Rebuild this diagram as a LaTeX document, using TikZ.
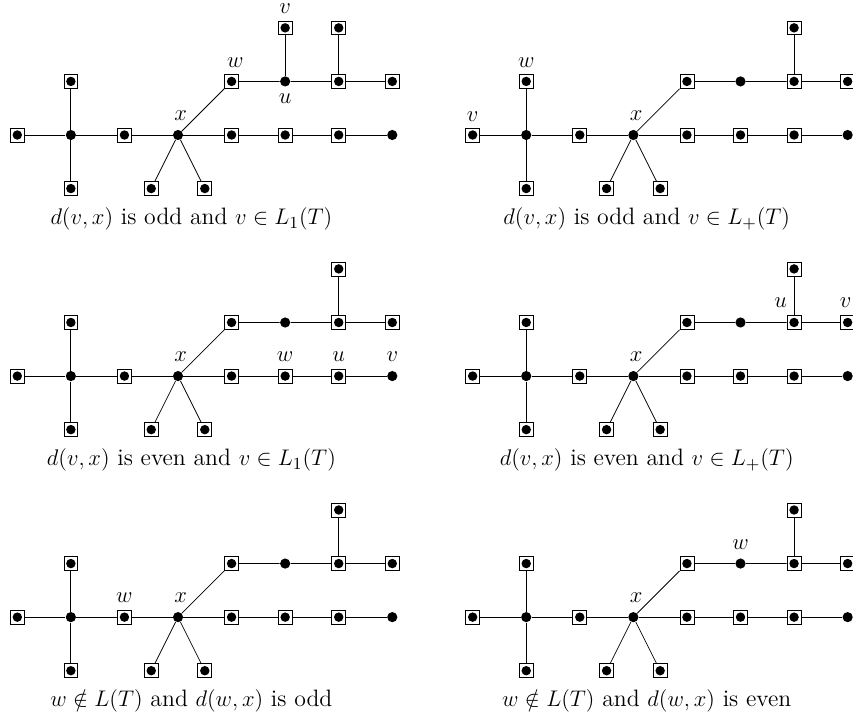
\documentclass[tikz,border=0pt]{standalone}
\usetikzlibrary{positioning}

\begin{document}
\begin{tikzpicture}[
  dot/.style={circle, fill, inner sep=0pt, minimum size=1.9mm},
  leaf/.style={draw, rectangle, inner sep=0pt, minimum size=2.6mm,
    path picture={\fill (path picture bounding box.center) circle (0.88mm);}},
  lbl/.style={inner sep=0pt, font=\fontsize{12.6}{15}\selectfont},
  captext/.style={inner sep=0pt, font=\fontsize{12.6}{15}\selectfont}
]
\useasboundingbox (-0.323,-10.96) rectangle (15.6,2.52);

% the same tree, six times
\foreach \p/\dx/\dy/\txt in {
  1/0/0/{$d(v,x)$ is odd and $v\in L_1(T)$},
  2/8.5/0/{$d(v,x)$ is odd and $v\in L_+(T)$},
  3/0/-4.5/{$d(v,x)$ is even and $v\in L_1(T)$},
  4/8.5/-4.5/{$d(v,x)$ is even and $v\in L_+(T)$},
  5/0/-9/{$w\notin L(T)$ and $d(w,x)$ is odd},
  6/8.5/-9/{$w\notin L(T)$ and $d(w,x)$ is even}} {
  \begin{scope}[shift={(\dx,\dy)}]
  \node[leaf] (lf-\p) at (0,0) {};
  \node[dot] (hub-\p) at (1,0) {};
  \node[leaf] (hubup-\p) at (1,1) {};
  \node[leaf] (hubdn-\p) at (1,-1) {};
  \node[leaf] (mid-\p) at (2,0) {};
  \node[dot] (x-\p) at (3,0) {};
  \node[leaf] (xl-\p) at (2.5,-1) {};
  \node[leaf] (xr-\p) at (3.5,-1) {};
  \node[leaf] (lo4-\p) at (4,0) {};
  \node[leaf] (lo5-\p) at (5,0) {};
  \node[leaf] (lo6-\p) at (6,0) {};
  \node[dot] (lo7-\p) at (7,0) {};
  \node[leaf] (up4-\p) at (4,1) {};
  \node[dot] (up5-\p) at (5,1) {};
  \node[leaf] (up6-\p) at (6,1) {};
  \node[leaf] (up7-\p) at (7,1) {};
  \node[leaf] (top6-\p) at (6,2) {};
  \node[captext] (cap-\p) at (3.25,-1.57) {\txt};
  \draw (lf-\p) -- (hub-\p) -- (mid-\p) -- (x-\p) -- (lo4-\p) -- (lo5-\p) -- (lo6-\p) -- (lo7-\p);
  \draw (hubup-\p) -- (hub-\p) -- (hubdn-\p);
  \draw (x-\p) -- (xl-\p);
  \draw (x-\p) -- (xr-\p);
  \draw (x-\p) -- (up4-\p) -- (up5-\p) -- (up6-\p) -- (up7-\p);
  \draw (up6-\p) -- (top6-\p);
  \end{scope}
}

% extra leaf in the first tree
\node[leaf] (top5-1) at (5,2) {};
\draw (up5-1) -- (top5-1);

% labels
\node[lbl] (v-1) at ([yshift=3.5mm]top5-1) {$v$};
\node[lbl] (w-1) at ([xshift=0.7mm,yshift=3.6mm]up4-1) {$w$};
\node[lbl] (u-1) at ([yshift=-3.2mm]up5-1) {$u$};
\node[lbl] (xx-1) at ([xshift=0.5mm,yshift=3.7mm]x-1) {$x$};

\node[lbl] (v-2) at ([yshift=3.4mm]lf-2) {$v$};
\node[lbl] (w-2) at ([yshift=3.6mm]hubup-2) {$w$};
\node[lbl] (xx-2) at ([xshift=0.5mm,yshift=3.7mm]x-2) {$x$};

\node[lbl] (xx-3) at ([xshift=0.5mm,yshift=3.7mm]x-3) {$x$};
\node[lbl] (w-3) at ([yshift=3.6mm]lo5-3) {$w$};
\node[lbl] (u-3) at ([yshift=3.6mm]lo6-3) {$u$};
\node[lbl] (v-3) at ([yshift=3.6mm]lo7-3) {$v$};

\node[lbl] (xx-4) at ([xshift=0.5mm,yshift=3.7mm]x-4) {$x$};
\node[lbl] (u-4) at ([xshift=-2.5mm,yshift=3.7mm]up6-4) {$u$};
\node[lbl] (v-4) at ([xshift=-0.4mm,yshift=3.7mm]up7-4) {$v$};

\node[lbl] (w-5) at ([yshift=3.6mm]mid-5) {$w$};
\node[lbl] (xx-5) at ([xshift=0.5mm,yshift=3.7mm]x-5) {$x$};

\node[lbl] (xx-6) at ([xshift=0.5mm,yshift=3.7mm]x-6) {$x$};
\node[lbl] (w-6) at ([yshift=3.6mm]up5-6) {$w$};
\end{tikzpicture}
\end{document}
